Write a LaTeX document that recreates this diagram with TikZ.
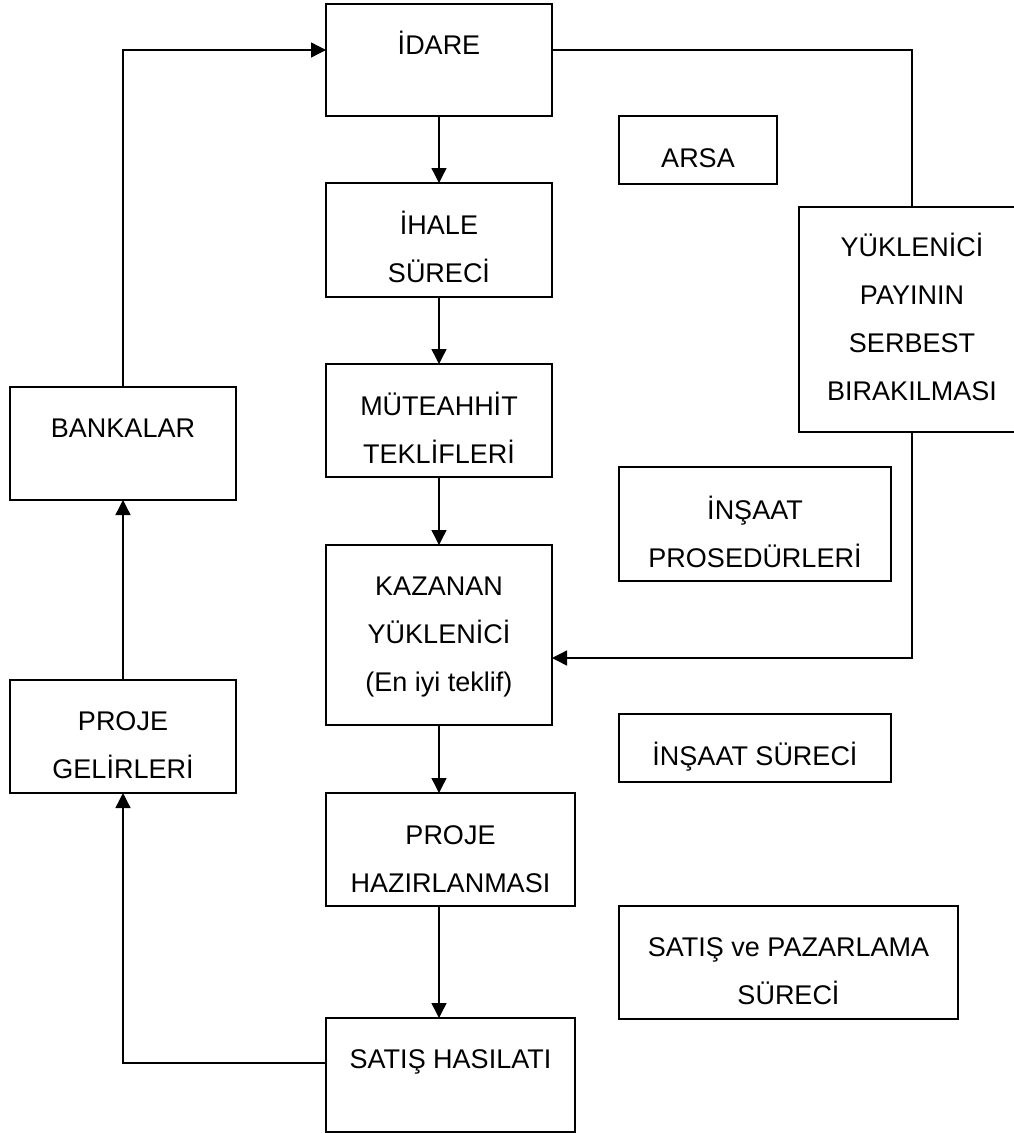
\documentclass[tikz,border=0pt]{standalone}
\usepackage{fontspec}
\setmainfont{Liberation Sans}
\usetikzlibrary{arrows.meta}
\begin{document}
\begin{tikzpicture}[x=1pt,y=-1pt,
  box/.style={draw, line width=1.4pt, inner sep=0pt, outer sep=0pt},
  txt/.style={inner sep=0pt, anchor=base, align=center,
              font=\fontsize{27}{48}\selectfont},
  link/.style={line width=1.4pt},
  arr/.style={link, -{Triangle[length=15pt,width=15pt]}}]
\useasboundingbox (0,0) rectangle (1014,1133);
\clip (0,0) rectangle (1014,1133);

% boxes
\node[box, minimum width=226pt, minimum height=112pt] (idare) at (439,60) {};
\node[box, minimum width=158pt, minimum height=68pt]  (arsa)  at (698,150) {};
\node[box, minimum width=226pt, minimum height=114pt] (ihale) at (439,240) {};
\node[box, minimum width=226pt, minimum height=225pt] (yuk)   at (912,319.5) {};
\node[box, minimum width=226pt, minimum height=113pt] (bank)  at (123,443.5) {};
\node[box, minimum width=226pt, minimum height=113pt] (mute)  at (439,420.5) {};
\node[box, minimum width=272pt, minimum height=114pt] (insp)  at (755,524) {};
\node[box, minimum width=226pt, minimum height=180pt] (kaz)   at (439,635) {};
\node[box, minimum width=226pt, minimum height=113pt] (pgel)  at (123,736.5) {};
\node[box, minimum width=272pt, minimum height=68pt]  (inss)  at (755,748) {};
\node[box, minimum width=249pt, minimum height=113pt] (phaz)  at (450.5,849.5) {};
\node[box, minimum width=339pt, minimum height=113pt] (spaz)  at (788.5,962.5) {};
\node[box, minimum width=249pt, minimum height=114pt] (shas)  at (450.5,1075) {};

% labels (placed on the baseline of their last line)
\node[txt] (idare-t) at (439,54)   {İDARE};
\node[txt] (arsa-t)  at (698,167)  {ARSA};
\node[txt] (ihale-t) at (439,282)  {İHALE\\SÜRECİ};
\node[txt] (yuk-t)   at (912,400)  {YÜKLENİCİ\\PAYININ\\SERBEST\\BIRAKILMASI};
\node[txt] (bank-t)  at (123,437)  {BANKALAR};
\node[txt] (mute-t)  at (439,463)  {MÜTEAHHİT\\TEKLİFLERİ};
\node[txt] (insp-t)  at (755,567)  {İNŞAAT\\PROSEDÜRLERİ};
\node[txt] (kaz-t)   at (439,691)  {KAZANAN\\YÜKLENİCİ\\(En iyi teklif)};
\node[txt] (pgel-t)  at (123,778)  {PROJE\\GELİRLERİ};
\node[txt] (inss-t)  at (755,765)  {İNŞAAT SÜRECİ};
\node[txt] (phaz-t)  at (450.5,892) {PROJE\\HAZIRLANMASI};
\node[txt] (spaz-t)  at (788.5,1004) {SATIŞ ve PAZARLAMA\\SÜRECİ};
\node[txt] (shas-t)  at (450.5,1068) {SATIŞ HASILATI};

% main flow down the centre
\draw[arr] (idare.south) -- (ihale.north);
\draw[arr] (ihale.south) -- (mute.north);
\draw[arr] (mute.south) -- (kaz.north);
\draw[arr] (kaz.south) -- (kaz.south |- phaz.north);
\draw[arr] (kaz.south |- phaz.south) -- (kaz.south |- shas.north);

% revenue loop on the left
\draw[arr] ([yshift=12pt]shas.west) -| (pgel.south);
\draw[arr] (pgel.north) -- (bank.south);
\draw[arr] (bank.north) |- ([yshift=10pt]idare.west);

% contractor share loop on the right
\draw[link] ([yshift=10pt]idare.east) -| (yuk.north);
\draw[arr] (yuk.south) |- ([yshift=-23pt]kaz.east);
\end{tikzpicture}
\end{document}
